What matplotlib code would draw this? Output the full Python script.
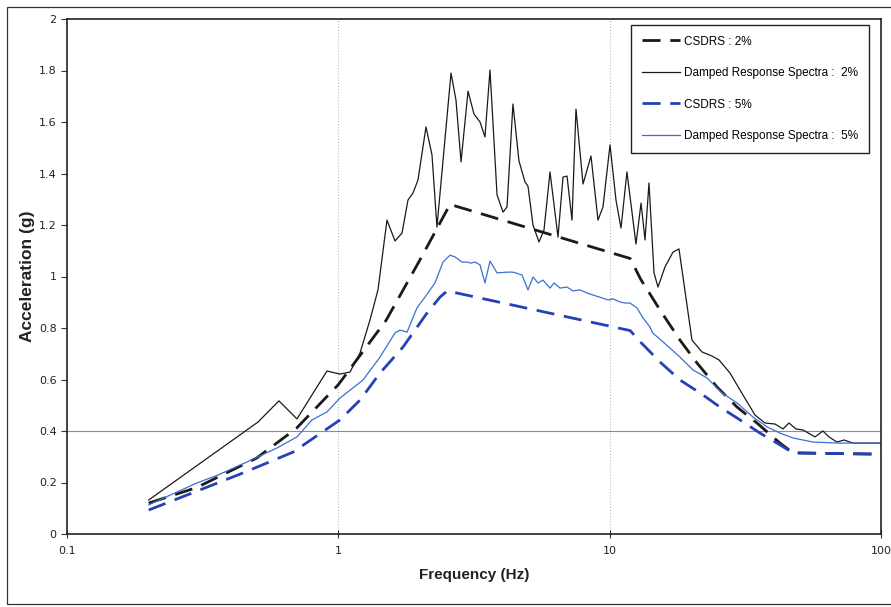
import matplotlib
matplotlib.use("Agg")
import matplotlib.pyplot as plt
from matplotlib.patches import Rectangle

# CSDRS design spectra (Hz, g)
csdrs2_f = [0.2, 0.3, 0.5, 0.7, 1.0, 1.5, 2.0, 2.58, 11.9, 13.0, 15.33, 18.16, 20.98,
            24.86, 29.47, 34.9, 42.44, 47.4, 100]
csdrs2_a = [0.12, 0.18, 0.295, 0.41, 0.58, 0.83, 1.065, 1.28, 1.07, 0.99, 0.87, 0.753,
            0.664, 0.571, 0.493, 0.431, 0.353, 0.315, 0.31]

csdrs5_f = [0.2, 0.289, 0.445, 0.681, 1.014, 1.202, 1.424, 1.731, 2.122, 2.37, 2.52,
            11.9, 13.0, 15.33, 18.16, 21.52, 25.5, 30.23, 35.8, 42.44, 47.4, 100]
csdrs5_a = [0.093, 0.159, 0.237, 0.318, 0.443, 0.52, 0.625, 0.726, 0.858, 0.92, 0.944,
            0.79, 0.745, 0.668, 0.598, 0.548, 0.493, 0.443, 0.392, 0.346, 0.315, 0.31]

# damped response spectra, 2 %
drs2_f = [0.2, 0.506, 0.604, 0.704, 0.908, 1.014, 1.104, 1.202, 1.308, 1.40, 1.511,
          1.618, 1.717, 1.806, 1.884, 1.966, 2.104, 2.214, 2.309, 2.602, 2.714, 2.833,
          3.006, 3.162, 3.328, 3.471, 3.622, 3.845, 4.046, 4.185, 4.401, 4.631, 4.875,
          5.0, 5.217, 5.49, 5.728, 6.028, 6.45, 6.73, 6.963, 7.264, 7.514, 7.976, 8.535,
          9.057, 9.449, 10.03, 10.55, 11.01, 11.58, 12.5, 13.05, 13.5, 13.96, 14.57,
          15.07, 15.99, 17.12, 18.01, 20.11, 21.89, 23.84, 25.29, 27.77, 30.23, 34.32,
          37.37, 40.68, 43.53, 45.8, 48.6, 51.6, 57.1, 61.1, 64.3, 68.8, 73.1, 78.9, 100]
drs2_a = [0.132, 0.435, 0.517, 0.447, 0.633, 0.621, 0.629, 0.703, 0.831, 0.948, 1.219,
          1.138, 1.169, 1.297, 1.324, 1.375, 1.581, 1.472, 1.192, 1.79, 1.685, 1.445,
          1.72, 1.631, 1.60, 1.542, 1.802, 1.317, 1.25, 1.27, 1.67, 1.449, 1.367,
          1.351, 1.20, 1.134, 1.181, 1.406, 1.153, 1.386, 1.39, 1.219, 1.65, 1.359, 1.468,
          1.219, 1.27, 1.511, 1.297, 1.188, 1.406, 1.126, 1.285, 1.142, 1.363, 1.014,
          0.959, 1.037, 1.095, 1.107, 0.753, 0.707, 0.691, 0.676, 0.625, 0.559, 0.462,
          0.431, 0.427, 0.408, 0.431, 0.408, 0.404, 0.377, 0.40, 0.377, 0.357, 0.365, 0.353, 0.353]

# damped response spectra, 5 %
drs5_f = [0.2, 0.24, 0.301, 0.36, 0.461, 0.594, 0.704, 0.80, 0.908, 1.014, 1.233, 1.424,
          1.618, 1.688, 1.791, 1.949, 2.086, 2.271, 2.431, 2.58, 2.692, 2.857, 2.98,
          3.082, 3.189, 3.328, 3.471, 3.622, 3.845, 4.185, 4.401, 4.753, 5.0, 5.217,
          5.443, 5.679, 6.028, 6.236, 6.561, 6.963, 7.326, 7.775, 8.251, 8.682, 9.369,
          9.86, 10.29, 10.92, 11.39, 11.88, 12.61, 13.27, 14.08, 14.4, 15.73, 18.16,
          20.29, 22.84, 25.94, 29.47, 33.75, 38.01, 42.44, 47.39, 56.15, 70.6, 100]
drs5_a = [0.113, 0.151, 0.198, 0.229, 0.28, 0.334, 0.377, 0.443, 0.474, 0.528, 0.598,
          0.687, 0.781, 0.792, 0.784, 0.878, 0.92, 0.975, 1.056, 1.083, 1.076, 1.056,
          1.056, 1.052, 1.056, 1.045, 0.975, 1.06, 1.014, 1.017, 1.017, 1.006, 0.948,
          0.998, 0.975, 0.986, 0.955, 0.975, 0.955, 0.959, 0.944, 0.948, 0.936, 0.928,
          0.917, 0.909, 0.913, 0.901, 0.897, 0.897, 0.878, 0.839, 0.804, 0.781, 0.746,
          0.687, 0.637, 0.606, 0.548, 0.509, 0.454, 0.416, 0.392, 0.373, 0.357, 0.353, 0.353]

y_ticks = [0, 0.2, 0.4, 0.6, 0.8, 1, 1.2, 1.4, 1.6, 1.8, 2]
x_ticks = [0.1, 1, 10, 100]

fig = plt.figure(figsize=(8.91, 6.07), dpi=100)
ax = fig.add_axes([67 / 891, 1 - 534 / 607, 814 / 891, 515 / 607])

fig.patches.append(Rectangle((7 / 891, 1 - 604 / 607), 1.0, 597 / 607,
                             transform=fig.transFigure, fill=False,
                             edgecolor="#333333", lw=0.9))

ax.axvline(1, color="#bbbbbb", lw=0.8, ls=":", zorder=0)
ax.axvline(10, color="#bbbbbb", lw=0.8, ls=":", zorder=0)
ax.axhline(0.4, color="#8c8c8c", lw=0.8, zorder=0)

ax.plot(csdrs2_f, csdrs2_a, color="#1a1a1a", lw=2.0, dashes=(6.5, 3.5),
        label="CSDRS : 2%")
ax.plot(drs2_f, drs2_a, color="#1a1a1a", lw=0.9,
        label="Damped Response Spectra :  2%")
ax.plot(csdrs5_f, csdrs5_a, color="#2541b8", lw=2.0, dashes=(6.5, 3.5),
        label="CSDRS : 5%")
ax.plot(drs5_f, drs5_a, color="#3b6fd6", lw=0.9,
        label="Damped Response Spectra :  5%")

ax.set_xscale("log")
ax.set_xlim(0.1, 100)
ax.set_ylim(0, 2)
ax.set_xticks(x_ticks)
ax.set_xticklabels(["0.1", "1", "10", "100"])
ax.xaxis.set_minor_locator(matplotlib.ticker.NullLocator())
ax.set_yticks(y_ticks)
ax.set_yticklabels(["0", "0.2", "0.4", "0.6", "0.8", "1", "1.2", "1.4", "1.6", "1.8", "2"])
ax.tick_params(axis="both", labelsize=8, length=4, width=0.8, color="#333333",
               labelcolor="#222222")
ax.tick_params(axis="x", direction="inout", length=6, pad=6)
for s in ax.spines.values():
    s.set_color("#222222")
    s.set_linewidth(1.2)

ax.set_xlabel("Frequency (Hz)", fontsize=11, fontweight="bold",
              family="Liberation Sans", color="#222222", labelpad=8)
ax.set_ylabel("Acceleration (g)", fontsize=12.5, fontweight="bold",
              family="Liberation Sans", color="#222222", labelpad=3)

leg = ax.legend(loc="upper right", bbox_to_anchor=(869 / 891, 1 - 25 / 607),
                bbox_transform=fig.transFigure, borderaxespad=0, fancybox=False,
                edgecolor="#222222", framealpha=1, handlelength=3.2,
                labelspacing=1.65, borderpad=0.9, handletextpad=0.4,
                prop={"family": "Liberation Sans", "size": 8.5})
leg.get_frame().set_linewidth(1.0)

fig.savefig("out.png", dpi=100)
